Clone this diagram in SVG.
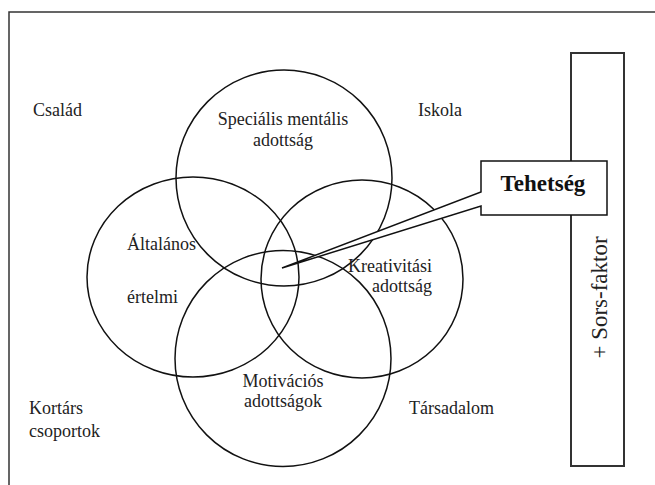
<svg xmlns="http://www.w3.org/2000/svg" width="655" height="485" viewBox="0 0 655 485">
<style>
.t{font-family:"Liberation Serif","Times New Roman",serif;font-size:18px;fill:#222}
.c{fill:none;stroke:#111;stroke-width:1.5}
.m{text-anchor:middle}
</style>
<rect x="0" y="0" width="655" height="485" fill="#fff"/>
<rect id="frame" x="9" y="12" width="700" height="520" fill="none" stroke="#333" stroke-width="1.5"/>
<g id="context">
<text class="t" x="33" y="116">Család</text>
<text class="t" x="418" y="116">Iskola</text>
<text class="t" x="29" y="414">Kortárs</text>
<text class="t" x="29" y="437">csoportok</text>
<text class="t" x="409" y="414">Társadalom</text>
</g>
<g id="specialis">
<circle class="c" cx="284" cy="178" r="108"/>
<text class="t m" x="283" y="125">Speciális mentális</text>
<text class="t m" x="283" y="146">adottság</text>
</g>
<g id="altalanos">
<ellipse class="c" cx="193" cy="277" rx="106" ry="100"/>
<text class="t" x="127" y="250">Általános</text>
<text class="t" x="127" y="303">értelmi</text>
</g>
<g id="kreativitasi">
<ellipse class="c" cx="362" cy="279" rx="101" ry="99"/>
<text class="t" x="432" y="272" text-anchor="end">Kreativitási</text>
<text class="t" x="432" y="292" text-anchor="end">adottság</text>
</g>
<g id="motivacios">
<circle class="c" cx="283" cy="358.5" r="108"/>
<text class="t m" x="283" y="387">Motivációs</text>
<text class="t m" x="283" y="407">adottságok</text>
</g>
<g id="sors">
<rect x="571" y="53" width="53" height="413" fill="none" stroke="#333" stroke-width="2"/>
<text class="t m" style="font-size:23px" transform="translate(607,297.5) rotate(-90)">+ Sors-faktor</text>
</g>
<g id="connectors">
<path d="M481,192 L481,161 L607,161 L607,215 L481,215 L481,206 L282,268 Z" fill="#fff" stroke="#111" stroke-width="1.5" stroke-linejoin="miter"/>
</g>
<g id="tehetseg">
<text class="t m" style="font-size:23px;font-weight:bold;fill:#111" x="543" y="191">Tehetség</text>
</g>
</svg>
